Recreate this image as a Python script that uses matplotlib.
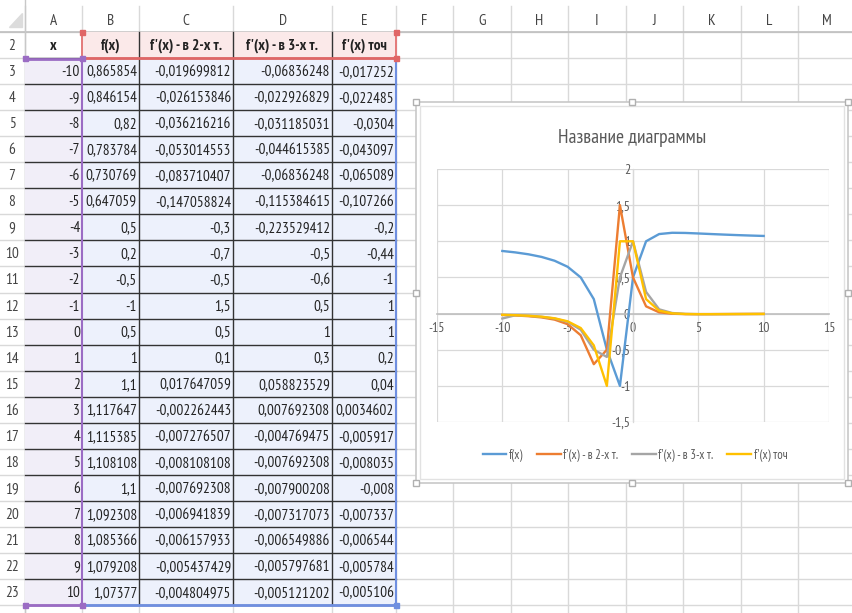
import matplotlib
matplotlib.use("Agg")
import matplotlib.pyplot as plt
from matplotlib.patches import Rectangle, Polygon
from matplotlib.ticker import FuncFormatter, MultipleLocator

plt.rcParams['font.family'] = ['PT Sans Narrow', 'DejaVu Sans']

# spreadsheet data (columns A..E, rows 3..23)
x = list(range(-10, 11))
fx = [0.865854, 0.846154, 0.82, 0.783784, 0.730769, 0.647059, 0.5, 0.2, -0.5, -1,
      0.5, 1, 1.1, 1.117647, 1.115385, 1.108108, 1.1, 1.092308, 1.085366, 1.079208, 1.07377]
d2 = [-0.019699812, -0.026153846, -0.036216216, -0.053014553, -0.083710407, -0.147058824,
      -0.3, -0.7, -0.5, 1.5, 0.5, 0.1, 0.017647059, -0.002262443, -0.007276507,
      -0.008108108, -0.007692308, -0.006941839, -0.006157933, -0.005437429, -0.004804975]
d3 = [-0.06836248, -0.022926829, -0.031185031, -0.044615385, -0.06836248, -0.115384615,
      -0.223529412, -0.5, -0.6, 0.5, 1, 0.3, 0.058823529, 0.007692308, -0.004769475,
      -0.007692308, -0.007900208, -0.007317073, -0.006549886, -0.005797681, -0.005121202]
dt = [-0.017252, -0.022485, -0.0304, -0.043097, -0.065089, -0.107266, -0.2, -0.44, -1, 1,
      1, 0.2, 0.04, 0.0034602, -0.005917, -0.008035, -0.008, -0.007337, -0.006544,
      -0.005784, -0.005106]
headers = ["x", "f(x)", "f'(x) - в 2-х т.", "f'(x) - в 3-х т.", "f'(x) точ"]
col_letters = list("ABCDEFGHIJKLM")
row_numbers = list(range(2, 24))
chart_title = "Название диаграммы"

colors = ["#5B9BD5", "#ED7D31", "#A5A5A5", "#FFC000"]


def cell_text(v):
    s = repr(float(v))
    if s.endswith(".0"):
        s = s[:-2]
    return s.replace(".", ",")


def tick_text(v, pos):
    if abs(v) < 1e-9:
        return "0"
    return f"{v:g}".replace(".", ",")


W, H = 852, 613
fig = plt.figure(figsize=(W / 100, H / 100), dpi=100)
bg = fig.add_axes([0, 0, 1, 1])
bg.set_xlim(0, W)
bg.set_ylim(H, 0)
bg.axis("off")

col_edges = [0, 25, 82, 139, 233, 332, 396, 453, 511, 568, 626, 683, 741, 798, 856]
row_top = 32
row_h = 26.05
n_rows = len(row_numbers)


def ry(i):
    return row_top + i * row_h


grid_c = "#d9d9d9"
# sheet gridlines
for i in range(n_rows + 1):
    bg.plot([0, W], [ry(i), ry(i)], color=grid_c, lw=1, zorder=1)
for xe in col_edges[1:]:
    bg.plot([xe, xe], [row_top, H], color=grid_c, lw=1, zorder=1)
    bg.plot([xe, xe], [6, row_top], color=grid_c, lw=1, zorder=1)
bg.plot([0, W], [row_top, row_top], color="#bfbfbf", lw=1.2, zorder=1)
bg.plot([25, 25], [0, H], color="#c8c8c8", lw=1, zorder=1)
bg.add_patch(Polygon([[22, 13], [22, 27], [9, 27]], closed=True, color="#dcdcdc", zorder=2))

# column letters and row numbers
for j, c in enumerate(col_letters):
    cx = (col_edges[j + 1] + col_edges[j + 2]) / 2
    bg.text(cx, 21, c, ha="center", va="center", fontsize=11, color="#444444", zorder=5)
for i, r in enumerate(row_numbers):
    bg.text(12, ry(i) + row_h / 2 + 1, str(r), ha="center", va="center", fontsize=11,
            color="#444444", zorder=5)

# highlighted range fills
bg.add_patch(Rectangle((82, ry(0)), 396 - 82, row_h, color="#fbe9e9", zorder=2))
bg.add_patch(Rectangle((25, ry(1)), 82 - 25, ry(n_rows) - ry(1), color="#f1eef8", zorder=2))
bg.add_patch(Rectangle((82, ry(1)), 396 - 82, ry(n_rows) - ry(1), color="#edf1fc", zorder=2))

# cell borders
for i in range(1, n_rows + 1):
    bg.plot([25, 396], [ry(i), ry(i)], color="#333333", lw=1, zorder=3)
for xe in [139, 233, 332]:
    bg.plot([xe, xe], [ry(0), ry(n_rows)], color="#333333", lw=1, zorder=3)

# selection outlines
red, purple, blue = "#e06666", "#9b6cc4", "#6f8fe0"
bg.plot([82, 82], [ry(0), ry(1)], color=red, lw=1.2, zorder=4)
bg.plot([396, 396], [ry(0), ry(1)], color=red, lw=1.2, zorder=4)
bg.plot([82, 396], [ry(1) - 0.5, ry(1) - 0.5], color=red, lw=2, zorder=4)
bg.plot([25, 82], [ry(1) + 0.5, ry(1) + 0.5], color=purple, lw=2, zorder=4)
bg.plot([82, 82], [ry(1), ry(n_rows)], color=purple, lw=1.5, zorder=4)
bg.plot([25, 82], [ry(n_rows), ry(n_rows)], color=purple, lw=2, zorder=4)
bg.plot([396, 396], [ry(1), ry(n_rows)], color=blue, lw=1.5, zorder=4)
bg.plot([84, 396], [ry(n_rows), ry(n_rows)], color=blue, lw=2, zorder=4)
for (hx, hy, hc) in [(82, ry(0), red), (396, ry(0), red), (396, ry(1), red),
                     (25, ry(1), purple), (82, ry(1), purple), (25, ry(n_rows), purple),
                     (82, ry(n_rows), purple), (396, ry(n_rows), blue)]:
    bg.add_patch(Rectangle((hx - 2.5, hy - 2.5), 5, 5, color=hc, zorder=4.5))

# cell texts
for j, h in enumerate(headers):
    cx = (col_edges[j + 1] + col_edges[j + 2]) / 2
    bg.text(cx, ry(0) + row_h / 2 + 1, h, ha="center", va="center", fontsize=11,
            fontweight="bold", color="#222222", zorder=5)
columns = [x, fx, d2, d3, dt]
for j, col in enumerate(columns):
    rx = col_edges[j + 2] - 2
    for i, v in enumerate(col):
        bg.text(rx, ry(i + 1) + row_h / 2 + 1, cell_text(v), ha="right", va="center",
                fontsize=11, color="#222222", zorder=5)

# chart frame
cx0, cy0, cx1, cy1 = 416, 102, 848, 483
bg.add_patch(Rectangle((cx0, cy0), cx1 - cx0, cy1 - cy0, facecolor="white",
                       edgecolor="#c8c8c8", lw=1.2, zorder=6))
bg.add_patch(Rectangle((cx0 + 4, cy0 + 4), cx1 - cx0 - 8, cy1 - cy0 - 8, facecolor="white",
                       edgecolor="#e2e2e2", lw=1, zorder=6))
midx, midy = (cx0 + cx1) / 2, (cy0 + cy1) / 2
for hx, hy in [(cx0, cy0), (midx, cy0), (cx1, cy0), (cx0, midy), (cx1, midy),
               (cx0, cy1), (midx, cy1), (cx1, cy1)]:
    bg.add_patch(Rectangle((hx - 3, hy - 3), 6, 6, facecolor="white", edgecolor="#b0b0b0",
                           lw=1, zorder=7))

# chart
px0, py0, px1, py1 = 437, 169, 829, 422
ax = fig.add_axes([px0 / W, 1 - py1 / H, (px1 - px0) / W, (py1 - py0) / H])
ax.set_facecolor("white")
series = [fx, d2, d3, dt]
lines = []
for k, s in enumerate(series):
    ln, = ax.plot(x, s, color=colors[k], lw=1.7, label=headers[k + 1], zorder=3 + k,
                  solid_joinstyle="round")
    lines.append(ln)
ax.set_xlim(-15, 15)
ax.set_ylim(-1.5, 2)
ax.xaxis.set_major_locator(MultipleLocator(5))
ax.yaxis.set_major_locator(MultipleLocator(0.5))
ax.xaxis.set_major_formatter(FuncFormatter(tick_text))
ax.yaxis.set_major_formatter(FuncFormatter(tick_text))
ax.grid(True, color=grid_c, lw=0.9)
ax.set_axisbelow(True)
for sp in ["top", "right"]:
    ax.spines[sp].set_visible(False)
ax.spines["bottom"].set_position(("data", 0))
ax.spines["left"].set_position(("data", 0))
ax.spines["bottom"].set_color("#bfbfbf")
ax.spines["bottom"].set_linewidth(1.2)
ax.spines["left"].set_color(grid_c)
ax.spines["left"].set_linewidth(0.9)
ax.tick_params(length=0, labelsize=10, labelcolor="#595959")
ax.tick_params(axis="x", pad=6)
ax.tick_params(axis="y", pad=2)

fig.text((cx0 + cx1) / 2 / W, 1 - 138 / H, chart_title, ha="center", va="center",
         fontsize=14, color="#595959")
fig.legend(lines, headers[1:], loc="center", bbox_to_anchor=(635 / W, 1 - 455 / H),
           ncol=4, frameon=False, fontsize=9, handlelength=1.9, columnspacing=1.1,
           handletextpad=0.2, labelcolor="#595959")

fig.savefig("out.png", dpi=100)
